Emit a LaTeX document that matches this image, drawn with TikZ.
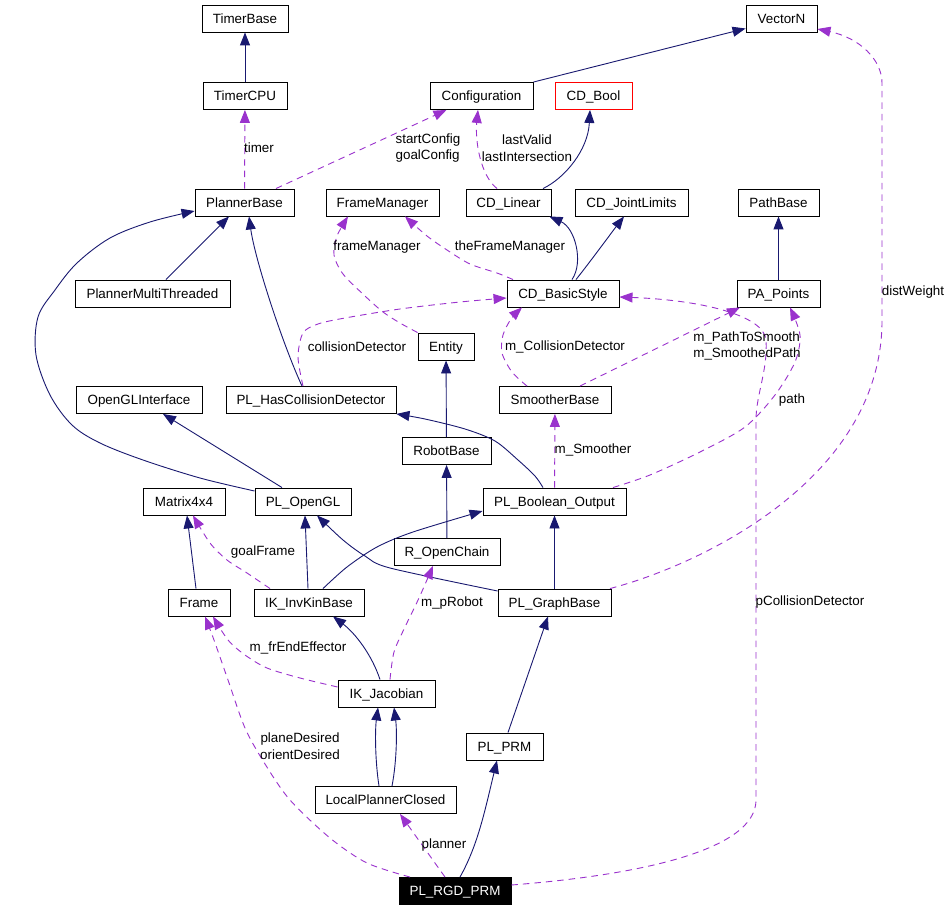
\documentclass[tikz,border=0pt]{standalone}
\usepackage{fontspec}
\setmainfont{Liberation Sans}
\usetikzlibrary{arrows.meta}
\definecolor{inhblue}{HTML}{191970}
\definecolor{usepurple}{HTML}{9A32CD}
\begin{document}
\begin{tikzpicture}[x=1pt,y=-1pt,
  cls/.style={draw=black, line width=0.9pt, fill=white, minimum height=27pt, inner sep=0pt, text height=9.6pt, text depth=0pt, font=\fontsize{13.4}{15}\selectfont},
  inh/.style={draw=inhblue, line width=0.9pt, -{Triangle[length=13pt,width=10pt]}},
  use/.style={draw=usepurple, line width=0.9pt, dash pattern=on 6.5pt off 5pt, -{Triangle[length=13pt,width=10pt]}},
  lbl/.style={font=\fontsize{13.4}{16.5}\selectfont, inner sep=0pt, align=center, text=black}
]
\fill[white] (0,0) rectangle (951,909);
\useasboundingbox (0,0) rectangle (951,909);

% nodes
\node[cls, minimum width=86pt] (timerbase) at (245,18.5) {TimerBase};
\node[cls, minimum width=84pt] (timercpu) at (245,96) {TimerCPU};
\node[cls, minimum width=103pt] (configuration) at (481.5,96) {Configuration};
\node[cls, draw=red, minimum width=77pt] (cdbool) at (593.5,96) {CD\_Bool};
\node[cls, minimum width=71pt] (vectorn) at (781.5,18.5) {VectorN};
\node[cls, minimum width=99pt] (plannerbase) at (244.5,202.5) {PlannerBase};
\node[cls, minimum width=113pt] (framemanager) at (382.5,202.5) {FrameManager};
\node[cls, minimum width=85pt] (cdlinear) at (508.5,202.5) {CD\_Linear};
\node[cls, minimum width=113pt] (cdjoint) at (631.5,202.5) {CD\_JointLimits};
\node[cls, minimum width=81pt] (pathbase) at (778.5,202.5) {PathBase};
\node[cls, minimum width=155pt] (plannermt) at (152.5,293.5) {PlannerMultiThreaded};
\node[cls, minimum width=112pt] (cdbasic) at (563,293.5) {CD\_BasicStyle};
\node[cls, minimum width=83pt] (papoints) at (778.5,293.5) {PA\_Points};
\node[cls, minimum width=56pt] (entity) at (446,346.5) {Entity};
\node[cls, minimum width=126pt] (openglif) at (139,400) {OpenGLInterface};
\node[cls, minimum width=170pt] (plhcd) at (311,400) {PL\_HasCollisionDetector};
\node[cls, minimum width=112pt] (smoother) at (555,400) {SmootherBase};
\node[cls, minimum width=89pt] (robotbase) at (446.5,451) {RobotBase};
\node[cls, minimum width=82pt] (matrix) at (184,501.5) {Matrix4x4};
\node[cls, minimum width=96pt] (plopengl) at (303,501.5) {PL\_OpenGL};
\node[cls, minimum width=143pt] (plbool) at (554.5,501.5) {PL\_Boolean\_Output};
\node[cls, minimum width=106pt] (rchain) at (447,552) {R\_OpenChain};
\node[cls, minimum width=62pt] (frame) at (199,602.5) {Frame};
\node[cls, minimum width=110pt] (ikinv) at (309,602.5) {IK\_InvKinBase};
\node[cls, minimum width=113pt] (plgraph) at (554.5,602.5) {PL\_GraphBase};
\node[cls, minimum width=97pt] (ikjac) at (386.5,693.5) {IK\_Jacobian};
\node[cls, minimum width=77pt] (plprm) at (504.5,746.5) {PL\_PRM};
\node[cls, minimum width=141pt] (lpc) at (385.5,800) {LocalPlannerClosed};
\node[cls, fill=black, text=white, minimum width=112pt] (plrgd) at (455,891) {PL\_RGD\_PRM};

% inheritance (blue)
\draw[inh] (timercpu) -- (timerbase);
\draw[inh] (configuration.north east) -- ([yshift=-10]vectorn.west);
\draw[inh] ([xshift=34.5]cdlinear.north) .. controls (565,178) and (588,150) .. ([xshift=-3.5]cdbool.south);
\draw[inh] ([xshift=9]cdbasic.north) .. controls (584,262) and (575,228) .. ([xshift=-2]cdlinear.south east);
\draw[inh] ([xshift=13]cdbasic.north) .. controls (590,262) and (612,232) .. ([xshift=-7.5]cdjoint.south);
\draw[inh] (papoints) -- (pathbase);
\draw[inh] ([xshift=13.5]plannermt.north) -- ([xshift=-15.5]plannerbase.south);
\draw[inh] ([xshift=-9]plhcd.north) .. controls (283,345) and (255,260) .. ([xshift=4.5]plannerbase.south);
\draw[inh] plot[smooth, tension=0.55] coordinates {([yshift=10.5]plopengl.west) (200,478) (143,460) (100,443) (72,425) (50,395) (36,355) (38,317) (55,290) (77,263) (110,238) (150,222) ([yshift=-8.5]plannerbase.west)};
\draw[inh] ([xshift=-21]plopengl.north) -- ([xshift=24]openglif.south);
\draw[inh] plot[smooth] coordinates {([xshift=-11.5]plbool.north) (535,476) (518,460) (495,441) (465,429) (425,419) (plhcd.south east)};
\draw[inh] (robotbase) -- (entity);
\draw[inh] (rchain) -- (robotbase);
\draw[inh] ([xshift=-1]ikinv.north) -- ([xshift=2]plopengl.south);
\draw[inh] plot[smooth] coordinates {([xshift=14]ikinv.north) (347,567) (377,547) (413,532) ([yshift=-9.5]plbool.west)};
\draw[inh] plot[smooth] coordinates {([yshift=11.5]plgraph.west) (390,568) (365,556) (343,540) ([xshift=14]plopengl.south)};
\draw[inh] (plgraph) -- (plbool);
\draw[inh] ([xshift=-3]frame.north) -- ([xshift=3]matrix.south);
\draw[inh] ([xshift=-6.5]ikjac.north) .. controls (372,655) and (355,633) .. ([xshift=24]ikinv.south);
\draw[inh] ([xshift=-6.5]lpc.north) .. controls (375,760) and (375,730) .. ([xshift=-8.5]ikjac.south);
\draw[inh] ([xshift=6.5]lpc.north) .. controls (397,760) and (397,730) .. ([xshift=7.5]ikjac.south);
\draw[inh] ([xshift=3.5]plprm.north) -- ([xshift=-6.5]plgraph.south);
\draw[inh] ([xshift=5]plrgd.north) .. controls (478,845) and (485,810) .. ([xshift=-7.5]plprm.south);

% usage (purple dashed)
\draw[use] (plannerbase) -- (timercpu);
\draw[use] ([xshift=31.5]plannerbase.north) -- ([xshift=-35]configuration.south);
\draw[use] ([xshift=-11.5]cdlinear.north) .. controls (480,175) and (475,140) .. ([xshift=-3.5]configuration.south);
\draw[use] plot[smooth] coordinates {(entity.north west) (400,323) (383,312) (365,296) (343,274) (334,255) (337,236) ([xshift=-34.5]framemanager.south)};
\draw[use] plot[smooth] coordinates {([xshift=-50]cdbasic.north) (497,273) (470,264) (447,250) (427,236) ([xshift=22.5]framemanager.south)};
\draw[use] plot[smooth] coordinates {([xshift=-8]plhcd.north) (298,357) (303,333) (318,324) (345,318) (400,309) (460,302) ([yshift=-4.5]cdbasic.west)};
\draw[use] plot[smooth] coordinates {([xshift=-28]smoother.north) (512,372) (502,353) (503,335) (511,319) ([xshift=-41]cdbasic.south)};
\draw[use] ([xshift=25]smoother.north) -- ([xshift=-38.5]papoints.south);
\draw[use] (plbool) -- (smoother);
\draw[use] plot[smooth] coordinates {([xshift=58.5]plbool.north) (650,475) (700,452) (745,427) (775,395) (795,362) (800,335) ([xshift=11.5]papoints.south)};
\draw[use] ([xshift=55.5]plgraph.north) .. controls (700,565) and (880,480) .. (882,323) -- (882,83) .. controls (882,60) and (860,38) .. ([yshift=-10.5]vectorn.east);
\draw[use] ([yshift=6]plrgd.east) .. controls (640,875) and (756,850) .. (756,800) -- (756,420) .. controls (756,395) and (768,370) .. (766,340) .. controls (764,315) and (700,300) .. ([yshift=-3.5]cdbasic.east);
\draw[use] plot[smooth] coordinates {([xshift=-39]ikinv.north) (247,573) (227,560) (210,543) ([xshift=9]matrix.south)};
\draw[use] plot[smooth] coordinates {([xshift=3.5]ikjac.north) (394,652) (405,627) (419,598) ([xshift=-14]rchain.south)};
\draw[use] plot[smooth] coordinates {([yshift=6.5]ikjac.west) (300,678) (267,668) (245,655) (228,640) ([xshift=14]frame.south)};
\draw[use] plot[smooth] coordinates {([xshift=-45]plrgd.north) (367,863) (330,838) (290,800) (265,764) (245,728) (228,680) (214,640) ([xshift=6]frame.south)};
\draw[use] ([xshift=-10]plrgd.north) -- ([xshift=14.5]lpc.south);

% labels
\node[lbl] (l1) at (259,148) {timer};
\node[lbl, align=left] (l2) at (428,148) {startConfig\\goalConfig};
\node[lbl] (l3) at (527,148) {lastValid\\lastIntersection};
\node[lbl] (l4) at (377,247) {frameManager};
\node[lbl] (l5) at (510,247) {theFrameManager};
\node[lbl] (l6) at (357,347) {collisionDetector};
\node[lbl] (l7) at (565,347) {m\_CollisionDetector};
\node[lbl, align=left] (l8) at (747,346) {m\_PathToSmooth\\m\_SmoothedPath};
\node[lbl] (l9) at (593,450) {m\_Smoother};
\node[lbl] (l10) at (792,400) {path};
\node[lbl] (l11) at (913,292) {distWeight};
\node[lbl] (l12) at (810,602) {pCollisionDetector};
\node[lbl] (l13) at (263,552) {goalFrame};
\node[lbl] (l14) at (452,603) {m\_pRobot};
\node[lbl] (l15) at (298,648) {m\_frEndEffector};
\node[lbl] (l16) at (300,746) {planeDesired\\orientDesired};
\node[lbl] (l17) at (444,845) {planner};
\end{tikzpicture}
\end{document}
